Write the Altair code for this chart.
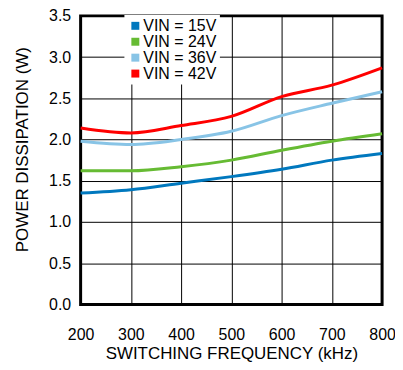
import altair as alt
import pandas as pd

freq = [200, 300, 400, 500, 600, 700, 800]
vin15 = [1.35, 1.39, 1.47, 1.55, 1.64, 1.75, 1.83]
vin24 = [1.62, 1.62, 1.67, 1.75, 1.87, 1.98, 2.07]
vin36 = [1.98, 1.94, 2.00, 2.10, 2.29, 2.44, 2.58]
vin42 = [2.14, 2.08, 2.17, 2.28, 2.52, 2.66, 2.87]

series = ["VIN = 15V", "VIN = 24V", "VIN = 36V", "VIN = 42V"]
colors = ["#0078BE", "#66BB33", "#88C4E6", "#FF0000"]

rows = []
for name, vals in zip(series, [vin15, vin24, vin36, vin42]):
    for f, v in zip(freq, vals):
        rows.append({"f": f, "p": v, "s": name})
df = pd.DataFrame(rows)

font = "Liberation Sans"

x_enc = alt.X("f:Q", scale=alt.Scale(domain=[200, 800], nice=False),
              axis=alt.Axis(values=freq, title="SWITCHING FREQUENCY (kHz)",
                            labelPadding=22, titlePadding=3, ticks=False,
                            domain=False, labelFontSize=16, titleFontSize=17,
                            labelFlush=False, labelOverlap=False,
                            labelFont=font, titleFont=font, labelColor="#000",
                            titleColor="#000", titleFontWeight="normal",
                            gridColor="#000", gridWidth=1, gridOpacity=1))
y_enc = alt.Y("p:Q", scale=alt.Scale(domain=[0, 3.5], nice=False),
              axis=alt.Axis(values=[0, 0.5, 1, 1.5, 2, 2.5, 3, 3.5], format=".1f",
                            title="POWER DISSIPATION (W)", labelPadding=10,
                            titlePadding=17, titleY=134, ticks=False,
                            domain=False,
                            labelFlush=False, labelOverlap=False,
                            labelFontSize=16, titleFontSize=17, labelFont=font,
                            titleFont=font, labelColor="#000", titleColor="#000",
                            titleFontWeight="normal", gridColor="#000",
                            gridWidth=1, gridOpacity=1))
cscale = alt.Scale(domain=series, range=colors)

lines = alt.Chart(df).mark_line(strokeWidth=3, interpolate="monotone").encode(
    x=x_enc, y=y_enc,
    color=alt.Color("s:N", scale=cscale, legend=None),
)

keys = alt.Chart(df).mark_square(size=0, opacity=0).encode(
    x=x_enc, y=y_enc,
    color=alt.Color("s:N", scale=cscale,
                    legend=alt.Legend(title=None, orient="none", legendX=44,
                                      legendY=-1, symbolType="square",
                                      symbolSize=64, symbolStrokeWidth=0,
                                      symbolOpacity=1,
                                      labelFontSize=16, labelFont=font,
                                      labelColor="#000", rowPadding=-1.3,
                                      fillColor="white", padding=3,
                                      labelOffset=0)),
)

chart = alt.layer(keys, lines).resolve_legend(color="independent").properties(
    width=303, height=290,
    autosize=alt.AutoSizeParams(type="none"),
    padding={"left": 73, "top": 7, "right": 13, "bottom": 57},
).configure_view(
    stroke="#000", strokeWidth=3
)

chart.save("out.html", embed_options={"renderer": "svg", "actions": False})
